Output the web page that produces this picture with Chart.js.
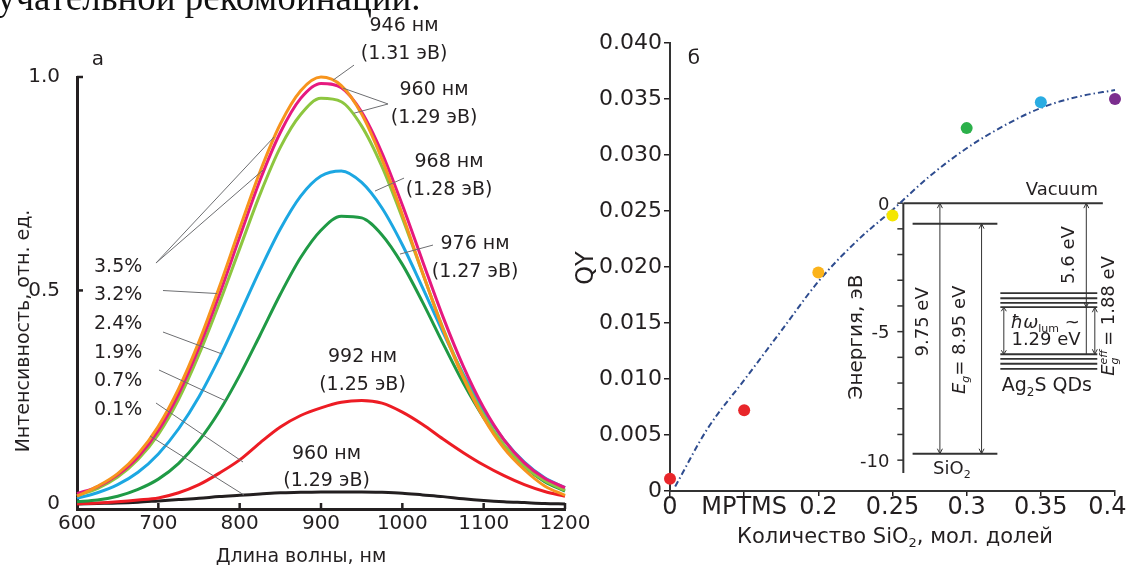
<!DOCTYPE html>
<html>
<head>
<meta charset="utf-8">
<script src="https://cdn.jsdelivr.net/npm/chart.js@4.4.1/dist/chart.umd.min.js"></script>
<style>
  html, body { margin: 0; padding: 0; background: #fff; width: 1130px; height: 565px; overflow: hidden; }
  canvas { position: absolute; top: 0; }
  #left { left: 0; }
  #right { left: 560px; }
</style>
</head>
<body>
<canvas id="left" width="620" height="565"></canvas>
<canvas id="right" width="590" height="565"></canvas>
<script>
const INK = '#231f20';
const FONT = '"DejaVu Sans", sans-serif';

// ---------- panel а: PL spectra ----------
const wavelengths = [600, 625, 650, 675, 700, 725, 750, 775, 800, 825, 850, 875, 900,
  925, 950, 975, 1000, 1025, 1050, 1075, 1100, 1125, 1150, 1175, 1200];
const specOrange = [0.018, 0.041, 0.071, 0.117, 0.182, 0.270, 0.380, 0.508, 0.645, 0.778, 0.890, 0.968, 1.000,
  0.980, 0.913, 0.807, 0.678, 0.541, 0.409, 0.295, 0.201, 0.130, 0.080, 0.042, 0.020];
const specMagenta = [0.024, 0.040, 0.068, 0.110, 0.172, 0.258, 0.366, 0.490, 0.625, 0.758, 0.870, 0.950, 0.985,
  0.975, 0.918, 0.822, 0.700, 0.568, 0.438, 0.322, 0.225, 0.150, 0.096, 0.060, 0.038];
const specLime = [0.020, 0.036, 0.063, 0.104, 0.163, 0.245, 0.350, 0.470, 0.598, 0.725, 0.835, 0.912, 0.950,
  0.942, 0.885, 0.790, 0.670, 0.540, 0.412, 0.300, 0.208, 0.138, 0.088, 0.054, 0.032];
const specBlue = [0.013, 0.026, 0.045, 0.074, 0.117, 0.176, 0.251, 0.342, 0.444, 0.548, 0.644, 0.721, 0.768,
  0.780, 0.753, 0.693, 0.607, 0.506, 0.402, 0.304, 0.219, 0.150, 0.098, 0.061, 0.038];
const specGreen = [0.005, 0.009, 0.018, 0.034, 0.058, 0.095, 0.148, 0.217, 0.301, 0.395, 0.491, 0.577, 0.641,
  0.674, 0.670, 0.630, 0.561, 0.472, 0.376, 0.283, 0.202, 0.136, 0.087, 0.052, 0.030];
const specRed = [0.000, 0.002, 0.005, 0.009, 0.014, 0.026, 0.045, 0.072, 0.103, 0.143, 0.180, 0.207, 0.225,
  0.238, 0.242, 0.236, 0.215, 0.186, 0.152, 0.120, 0.091, 0.066, 0.045, 0.029, 0.018];
const specBlack = [0.000, 0.001, 0.002, 0.004, 0.007, 0.010, 0.013, 0.017, 0.020, 0.023, 0.026, 0.027, 0.028,
  0.028, 0.028, 0.027, 0.025, 0.021, 0.017, 0.012, 0.008, 0.005, 0.003, 0.001, 0.000];

// first one is drawn on top
const spectra = [
  { label: '3.5%', color: '#f7941d', values: specOrange },
  { label: '3.5%', color: '#e6197f', values: specMagenta },
  { label: '3.2%', color: '#8dc63f', values: specLime },
  { label: '2.4%', color: '#1ca7e2', values: specBlue },
  { label: '1.9%', color: '#1f9a45', values: specGreen },
  { label: '0.7%', color: '#ed1c24', values: specRed },
  { label: '0.1%', color: '#231f20', values: specBlack },
];

const yTicksLeft = [0, 0.5, 1];
const yTickLabelsLeft = ['0', '0.5', '1.0'];

// concentration labels (left) and peak notes (right), in data units
const concLabels = ['3.5%', '3.2%', '2.4%', '1.9%', '0.7%', '0.1%'];
const concLabelY = [0.5595, 0.4939, 0.4260, 0.3581, 0.2925, 0.2246];
const peakNotes = [
  ['946 нм', '(1.31 эВ)', 1002.1, 1.1239, 1.0583],
  ['960 нм', '(1.29 эВ)', 1039.0, 0.9740, 0.9084],
  ['968 нм', '(1.28 эВ)', 1057.4, 0.8063, 0.7407],
  ['976 нм', '(1.27 эВ)', 1089.4, 0.6134, 0.5478],
  ['992 нм', '(1.25 эВ)', 951.0, 0.3487, 0.2831],
  ['960 нм', '(1.29 эВ)', 906.8, 0.1216, 0.0583],
];
const leaders = [
  [697.1, 0.5642, 842.2, 0.8593],
  [697.1, 0.5642, 828.7, 0.7820],
  [705.7, 0.4998, 772.1, 0.4928],
  [705.7, 0.4026, 778.3, 0.3511],
  [700.8, 0.3136, 783.2, 0.2410],
  [697.1, 0.2363, 804.1, 0.0981],
  [689.8, 0.1590, 805.3, 0.0208],
  [940.6, 1.0279, 914.8, 0.9927],
  [982.4, 0.9368, 927.1, 0.9740],
  [982.4, 0.9368, 940.6, 0.9152],
  [1002.1, 0.7632, 966.4, 0.7328],
  [1037.7, 0.6063, 997.1, 0.5852],
];

// ---------- panel б: QY ----------
const qyLabels = ['0', 'MPTMS', '0.2', '0.25', '0.3', '0.35', '0.4'];
const qyValues = [0.0011, 0.0072, 0.0195, 0.0246, 0.0324, 0.0347, 0.0350];
const qyColors = ['#e8262a', '#e8262a', '#fbb31b', '#f4e600', '#2bb04a', '#2aace2', '#7b2d8e'];
const fitX = [0.07, 0.5, 1, 1.5, 2, 2.5, 3, 3.5, 4, 4.5, 5, 5.5, 6];
const fitY = [0.0004, 0.0055, 0.0099, 0.0143, 0.0187, 0.0222, 0.0251, 0.0281, 0.0306, 0.0326, 0.0342, 0.0352, 0.0358];

// inset: energy levels, eV
const energyTicks = [0, -1, -2, -3, -4, -5, -6, -7, -8, -9, -10];
const energyLabels = [0, -5, -10];
const sio2Levels = [-0.8, -9.75];
const ag2sLevels = [-3.5, -3.7, -3.88, -4.05, -5.88, -6.06, -6.25, -6.45];

// ---------- helpers ----------
function seg(ctx, x1, y1, x2, y2) {
  ctx.beginPath(); ctx.moveTo(x1, y1); ctx.lineTo(x2, y2); ctx.stroke();
}

function drawText(ctx, s, x, y, o = {}) {
  const size = o.size || 19;
  ctx.save();
  ctx.font = `${o.style || ''} ${size}px ${o.family || FONT}`;
  ctx.fillStyle = o.color || INK;
  ctx.textAlign = o.align || 'center';
  ctx.textBaseline = 'alphabetic';
  ctx.translate(x, y);
  if (o.rot) ctx.rotate(o.rot);
  ctx.fillText(s, 0, o.dy !== undefined ? o.dy : size * 0.36);
  ctx.restore();
}

// parts: {t, sub, sup, it, stay}
function drawRich(ctx, parts, x, y, size, rot = 0) {
  ctx.save();
  ctx.translate(x, y);
  if (rot) ctx.rotate(rot);
  ctx.fillStyle = INK;
  ctx.textBaseline = 'alphabetic';
  const fontOf = p => `${p.it ? 'italic ' : ''}${(p.sub || p.sup) ? Math.round(size * 0.62) : size}px ${FONT}`;
  let total = 0;
  parts.forEach(p => { ctx.font = fontOf(p); p.w = ctx.measureText(p.t).width; if (!p.stay) total += p.w; });
  let cx = -total / 2;
  parts.forEach(p => {
    ctx.font = fontOf(p);
    const dy = p.sub ? size * 0.22 : (p.sup ? -size * 0.42 : 0);
    ctx.fillText(p.t, cx, size * 0.36 + dy);
    if (!p.stay) cx += p.w;
  });
  ctx.restore();
}

function vArrow(ctx, x, yTop, yBot, head = 5) {
  seg(ctx, x, yTop, x, yBot);
  ctx.beginPath();
  ctx.moveTo(x - 2.5, yTop + head); ctx.lineTo(x, yTop); ctx.lineTo(x + 2.5, yTop + head);
  ctx.moveTo(x - 2.5, yBot - head); ctx.lineTo(x, yBot); ctx.lineTo(x + 2.5, yBot - head);
  ctx.stroke();
}

// ---------- panel а ----------
const leftDecor = {
  id: 'leftDecor',
  afterDraw(chart) {
    const { ctx, chartArea: a, scales: { x, y } } = chart;
    const px = v => x.getPixelForValue(v), py = v => y.getPixelForValue(v);
    ctx.save();
    // cut line of page text above the figure
    ctx.font = '37px "Liberation Serif", serif';
    ctx.fillStyle = '#111';
    const off = ctx.measureText('изл').width;
    ctx.fillText('излучательной рекомбинации.', -off - 3, 10);

    ctx.strokeStyle = INK; ctx.lineWidth = 2.5;
    [0.5, 1].forEach(v => seg(ctx, a.left, py(v), a.left + 6, py(v)));
    [700, 800, 900, 1000, 1100, 1200].forEach(v => seg(ctx, px(v), a.bottom, px(v), a.bottom - 6));

    ctx.strokeStyle = '#6d6e71'; ctx.lineWidth = 1;
    leaders.forEach(([x1, y1, x2, y2]) => seg(ctx, px(x1), py(y1), px(x2), py(y2)));

    concLabels.forEach((t, i) => drawText(ctx, t, px(620.9), py(concLabelY[i]), { align: 'left' }));
    peakNotes.forEach(([t1, t2, wx, v1, v2]) => {
      drawText(ctx, t1, px(wx), py(v1));
      drawText(ctx, t2, px(wx), py(v2));
    });

    drawText(ctx, 'а', 98, 59, { size: 20, dy: 6 });
    drawText(ctx, 'Интенсивность, отн. ед.', 22, 331, { rot: -Math.PI / 2 });
    drawText(ctx, 'Длина волны, нм', 301, 555);
    ctx.restore();
  }
};

new Chart(document.getElementById('left'), {
  type: 'line',
  data: {
    datasets: spectra.map(s => ({
      label: s.label,
      data: wavelengths.map((w, i) => ({ x: w, y: s.values[i] })),
      borderColor: s.color,
      borderWidth: 3,
      pointRadius: 0,
      cubicInterpolationMode: 'monotone',
      fill: false,
      clip: false,
    })),
  },
  options: {
    responsive: false,
    animation: false,
    devicePixelRatio: 1,
    layout: { padding: { left: 0, right: 55, top: 77, bottom: 0 } },
    plugins: { legend: { display: false }, tooltip: { enabled: false } },
    scales: {
      x: {
        type: 'linear', min: 600, max: 1200,
        afterFit(s) { s.height = 56; },
        ticks: { stepSize: 100, color: INK, padding: 3, maxRotation: 0, font: { family: FONT, size: 20 }, callback: v => String(v) },
        grid: { display: true, drawOnChartArea: false, drawTicks: false },
        border: { color: INK, width: 3 },
      },
      y: {
        min: -0.012, max: 1,
        afterFit(s) { s.width = 77; },
        afterBuildTicks(s) { s.ticks = yTicksLeft.map(v => ({ value: v })); },
        ticks: { color: INK, padding: 17, font: { family: FONT, size: 20 }, callback: (v, i) => yTickLabelsLeft[i] },
        grid: { display: true, drawOnChartArea: false, drawTicks: false },
        border: { color: INK, width: 3 },
      },
    },
  },
  plugins: [leftDecor],
});

// ---------- panel б ----------
const inset = { axisX: 3.146, vacFrom: 3.15, vacTo: 5.836, sioFrom: 3.271, sioTo: 4.414,
  qdFrom: 4.454, qdTo: 5.761, arr975: 3.639, arr895: 4.201, arr56: 5.613, arrEff: 5.728, boxL: 4.501 };

const rightDecor = {
  id: 'rightDecor',
  beforeDatasetsDraw(chart) {
    const { ctx, scales: { x, yE } } = chart;
    const px = v => x.getPixelForValue(v), py = e => yE.getPixelForValue(e);
    const ax = px(inset.axisX);
    ctx.save();
    ctx.strokeStyle = '#333';
    ctx.lineWidth = 2;
    seg(ctx, ax, py(0), ax, py(-10.5));
    ctx.lineWidth = 1.5;
    energyTicks.forEach(e => seg(ctx, ax - 6, py(e), ax, py(e)));
    energyLabels.forEach(e => drawText(ctx, String(e), ax - 14, py(e), { size: 18, align: 'right' }));

    ctx.lineWidth = 2;
    seg(ctx, px(inset.vacFrom), py(0), px(inset.vacTo), py(0));
    sio2Levels.forEach(e => seg(ctx, px(inset.sioFrom), py(e), px(inset.sioTo), py(e)));
    ctx.lineWidth = 1.8;
    ag2sLevels.forEach(e => seg(ctx, px(inset.qdFrom), py(e), px(inset.qdTo), py(e)));

    ctx.lineWidth = 1;
    vArrow(ctx, px(inset.arr975), py(0), py(sio2Levels[1]));
    vArrow(ctx, px(inset.arr895), py(sio2Levels[0]), py(sio2Levels[1]));
    vArrow(ctx, px(inset.arr56), py(0), py(ag2sLevels[3]));
    vArrow(ctx, px(inset.arrEff), py(ag2sLevels[3]), py(ag2sLevels[4]));
    vArrow(ctx, px(inset.boxL), py(ag2sLevels[3]), py(ag2sLevels[4]), 4);
    seg(ctx, px(inset.arr56), py(ag2sLevels[3]), px(inset.arr56), py(ag2sLevels[4]));

    drawText(ctx, 'Vacuum', px(5.283), py(0.55), { size: 18 });
    drawText(ctx, '9.75 eV', px(3.396), py(-4.62), { size: 18, rot: -Math.PI / 2 });
    drawRich(ctx, [{ t: 'E', it: true }, { t: 'g', sub: true, it: true }, { t: '= 8.95 eV' }], px(3.895), py(-5.32), 18, -Math.PI / 2);
    drawRich(ctx, [{ t: 'SiO' }, { t: '2', sub: true }], px(3.80), py(-10.3), 18);
    drawText(ctx, '5.6 eV', px(5.364), py(-2.02), { size: 18, rot: -Math.PI / 2 });
    drawRich(ctx, [{ t: 'E', it: true }, { t: 'eff', sup: true, it: true, stay: true }, { t: 'g', sub: true, it: true },
      { t: '  = 1.88 eV' }], px(5.903), py(-4.39), 18, -Math.PI / 2);
    drawRich(ctx, [{ t: 'ħω', it: true }, { t: 'lum', sub: true }, { t: ' ~' }], px(5.06), py(-4.61), 18);
    drawText(ctx, '1.29 eV', px(5.07), py(-5.25), { size: 18 });
    drawRich(ctx, [{ t: 'Ag' }, { t: '2', sub: true }, { t: 'S QDs' }], px(5.081), py(-7.06), 19);
    drawText(ctx, 'Энергия, эВ', px(2.493), py(-5.21), { size: 20, rot: -Math.PI / 2 });
    ctx.restore();
  },
  afterDraw(chart) {
    const { ctx } = chart;
    drawText(ctx, 'QY', 24.6, 268, { size: 24, rot: -Math.PI / 2 });
    drawText(ctx, 'б', 134, 58, { size: 20, dy: 6 });
    drawRich(ctx, [{ t: 'Количество SiO' }, { t: '2', sub: true }, { t: ', мол. долей' }], 335, 535, 21);
  }
};

new Chart(document.getElementById('right'), {
  type: 'scatter',
  data: {
    datasets: [
      {
        label: 'QY',
        data: qyValues.map((v, i) => ({ x: i, y: v })),
        pointRadius: 6,
        pointBackgroundColor: qyColors,
        pointBorderColor: qyColors,
        pointBorderWidth: 0,
        clip: false,
      },
      {
        type: 'line',
        label: 'fit',
        data: fitX.map((v, i) => ({ x: v, y: fitY[i] })),
        borderColor: '#2e4c8f',
        borderWidth: 2,
        borderDash: [6, 3, 1.5, 3],
        pointRadius: 0,
        showLine: true,
        cubicInterpolationMode: 'monotone',
        fill: false,
        clip: false,
      },
    ],
  },
  options: {
    responsive: false,
    animation: false,
    devicePixelRatio: 1,
    layout: { padding: { left: 0, right: 35, top: 43, bottom: 0 } },
    plugins: { legend: { display: false }, tooltip: { enabled: false } },
    scales: {
      x: {
        type: 'linear', min: 0, max: 6,
        afterFit(s) { s.height = 74; },
        afterBuildTicks(s) { s.ticks = qyLabels.map((_, i) => ({ value: i })); },
        // last label sits a little left of its tick, as in the source figure
        ticks: { color: INK, padding: 0, maxRotation: 0, autoSkip: false, font: { family: FONT, size: 24, lineHeight: 1 },
          callback: (v, i) => (i === qyLabels.length - 1 ? qyLabels[i] + '  ' : qyLabels[i]) },
        grid: { drawOnChartArea: false, drawTicks: true, tickLength: 5, color: INK, lineWidth: 1.5 },
        border: { color: '#333', width: 2 },
      },
      y: {
        min: 0, max: 0.04,
        afterFit(s) { s.width = 110; },
        ticks: { stepSize: 0.005, color: INK, padding: 2, font: { family: FONT, size: 22 },
          callback: v => (Math.abs(v) < 1e-9 ? '0' : v.toFixed(3)) },
        grid: { drawOnChartArea: false, drawTicks: true, tickLength: 6, color: INK, lineWidth: 1.5 },
        border: { color: '#333', width: 2 },
      },
      yE: { type: 'linear', display: false, min: -11.2, max: 6.23 },
    },
  },
  plugins: [rightDecor],
});
</script>
</body>
</html>
